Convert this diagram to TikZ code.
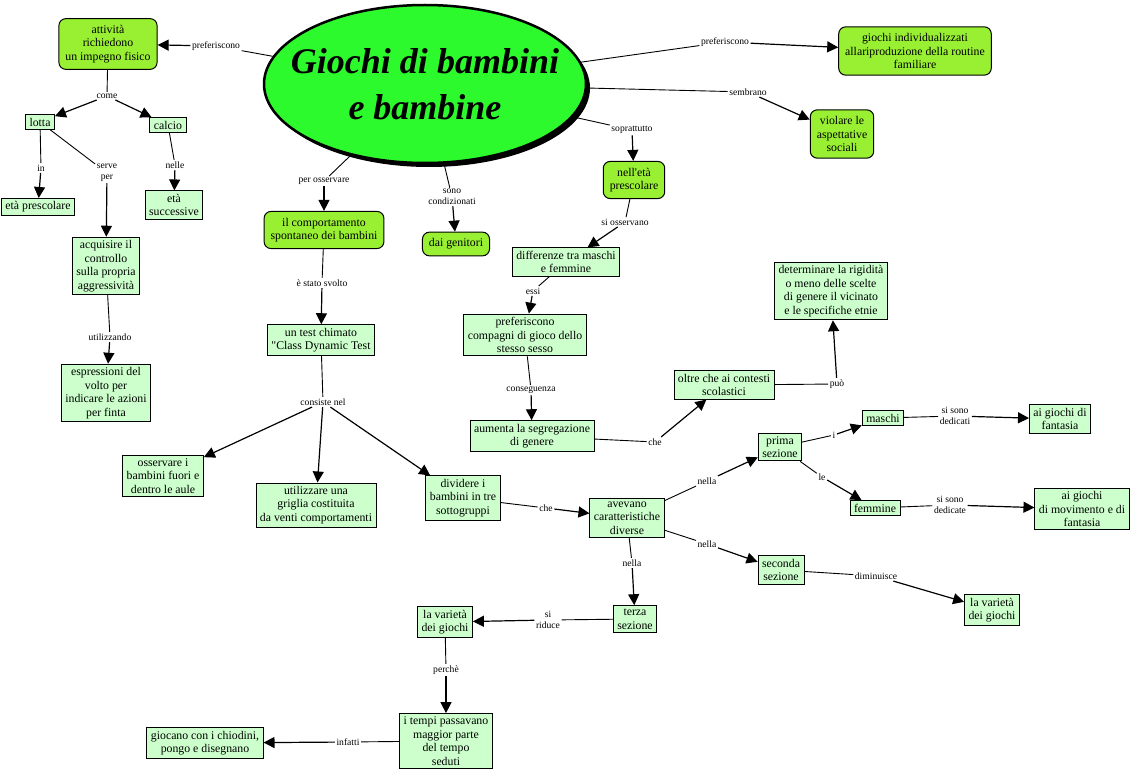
\documentclass[tikz,border=0pt]{standalone}
\usepackage{fontspec}
\setmainfont{Liberation Serif}
\usetikzlibrary{arrows.meta, shapes.geometric, shadows}

\definecolor{titlegreen}{RGB}{45,250,45}
\definecolor{limegreen}{RGB}{153,240,51}
\definecolor{mintgreen}{RGB}{204,255,204}

\tikzset{
  title/.style={ellipse, draw, line width=2.5pt, fill=titlegreen, minimum width=322pt, minimum height=158pt,
    inner sep=0pt, align=center, font=\fontsize{36}{46}\selectfont\bfseries\itshape,
    drop shadow={fill=black, opacity=1, shadow xshift=4pt, shadow yshift=-4pt}},
  topic/.style={draw, line width=1pt, rounded corners=7pt, fill=limegreen, align=center,
    font=\fontsize{11.8}{13.5}\selectfont, inner xsep=6.5pt, inner ysep=6.5pt},
  concept/.style={draw, line width=0.9pt, fill=mintgreen, align=center,
    font=\fontsize{11.8}{13.5}\selectfont, inner xsep=4pt, inner ysep=3.2pt},
  linklbl/.style={fill=white, align=center, font=\fontsize{9.6}{10.5}\selectfont, inner sep=1.5pt},
  link/.style={line width=0.9pt},
  arr/.style={line width=1.2pt, -{Triangle[length=11pt,width=11pt]}},
}

\begin{document}
\begin{tikzpicture}[x=1pt, y=-1pt]
    \useasboundingbox (0,0) rectangle (1132,773);

    \node[title] (title) at (425,84) {\makebox[0pt]{Giochi di bambini}\\\makebox[0pt]{e bambine}};

    \node[topic] (fisico) at (108,44) {attività\\richiedono\\un impegno fisico};
    \node[topic] (routine) at (915,51) {giochi individualizzati\\allariproduzione della routine\\familiare};
    \node[topic] (violare) at (842,134) {violare le\\aspettative\\sociali};
    \node[topic] (prescol) at (634,180) {nell\textquotesingle età\\prescolare};
    \node[topic] (spontaneo) at (324,230) {il comportamento\\spontaneo dei bambini};
    \node[topic] (genitori) at (456,244) {dai genitori};

    \node[concept] (lotta) at (40,122) {lotta};
    \node[concept] (calcio) at (168,125) {calcio};
    \node[concept] (etapre) at (38,207) {età prescolare};
    \node[concept] (etasucc) at (174,205) {età\\successive};
    \node[concept] (controllo) at (106,266) {acquisire il\\controllo\\sulla propria\\aggressività};
    \node[concept] (volto) at (106,393) {espressioni del\\volto per\\indicare le azioni\\per finta};
    \node[concept] (test) at (321,340) {un test chimato\\\textquotedbl Class Dynamic Test};
    \node[concept] (aule) at (163,476) {osservare i\\bambini fuori e\\dentro le aule};
    \node[concept] (griglia) at (316,505) {utilizzare una\\griglia costituita\\da venti comportamenti};
    \node[concept] (dividere) at (463,498) {dividere i\\bambini in tre\\sottogruppi};
    \node[concept] (differenze) at (566,262) {differenze tra maschi\\e femmine};
    \node[concept] (compagni) at (525,335) {preferiscono\\compagni di gioco dello\\stesso sesso};
    \node[concept] (segreg) at (532,436) {aumenta la segregazione\\di genere};
    \node[concept] (contesti) at (724,385) {oltre che ai contesti\\scolastici};
    \node[concept] (rigidita) at (831,291) {determinare la rigidità\\o meno delle scelte\\di genere il vicinato\\e le specifiche etnie};
    \node[concept] (diverse) at (627,518) {avevano\\caratteristiche\\diverse};
    \node[concept] (prima) at (780,447) {prima\\sezione};
    \node[concept] (maschi) at (883,418) {maschi};
    \node[concept] (fantasia) at (1060,419) {ai giochi di\\fantasia};
    \node[concept] (femmine) at (875,508) {femmine};
    \node[concept] (movimento) at (1082,509) {ai giochi\\di movimento e di\\fantasia};
    \node[concept] (seconda) at (781,570) {seconda\\sezione};
    \node[concept] (varietaR) at (992,610) {la varietà\\dei giochi};
    \node[concept] (terza) at (635,619) {terza\\sezione};
    \node[concept] (varietaL) at (445,622) {la varietà\\dei giochi};
    \node[concept] (seduti) at (446,741) {i tempi passavano\\maggior parte\\del tempo\\seduti};
    \node[concept] (chiodini) at (205,743) {giocano con i chiodini,\\pongo e disegnano};

    \node[linklbl] (lprefA) at (216,46) {preferiscono};
    \node[linklbl] (lprefB) at (725,42) {preferiscono};
    \node[linklbl] (lsembr) at (748,92) {sembrano};
    \node[linklbl] (lsopra) at (632,130) {soprattutto};
    \node[linklbl] (losserv) at (324,181) {per osservare};
    \node[linklbl] (lcond) at (452,197) {sono\\condizionati};
    \node[linklbl] (lcome) at (107,96) {come};
    \node[linklbl] (lin) at (41,168) {in};
    \node[linklbl] (lserve) at (107,173) {serve\\per};
    \node[linklbl] (lnelle) at (175,165) {nelle};
    \node[linklbl] (lutil) at (110,337) {utilizzando};
    \node[linklbl] (lsvolto) at (322,283) {è stato svolto};
    \node[linklbl] (lconsiste) at (323,402) {consiste nel};
    \node[linklbl] (lsioss) at (625,222) {si osservano};
    \node[linklbl] (lessi) at (533,291) {essi};
    \node[linklbl] (lconseg) at (531,390) {conseguenza};
    \node[linklbl] (lcheA) at (655,442) {che};
    \node[linklbl] (lpuo) at (837,384) {può};
    \node[linklbl] (lcheB) at (546,508) {che};
    \node[linklbl] (lnellaA) at (707,481) {nella};
    \node[linklbl] (lnellaB) at (707,544) {nella};
    \node[linklbl] (lnellaC) at (632,563) {nella};
    \node[linklbl] (li) at (834,435) {i};
    \node[linklbl] (lle) at (822,477) {le};
    \node[linklbl] (ldedM) at (955,416) {si sono\\dedicati};
    \node[linklbl] (ldedF) at (950,505) {si sono\\dedicate};
    \node[linklbl] (ldimin) at (876,576) {diminuisce};
    \node[linklbl] (lriduce) at (548,620) {si\\riduce};
    \node[linklbl] (lperche) at (446,670) {perchè};
    \node[linklbl] (linfatti) at (348,742) {infatti};

    \draw[link] (title) -- (lprefA);  \draw[arr] (lprefA) -- (fisico);
    \draw[link] (title) -- (lprefB);  \draw[arr] (lprefB) -- (routine);
    \draw[link] (title) -- (lsembr);  \draw[arr] (lsembr) -- (violare);
    \draw[link] (title) -- (lsopra);  \draw[arr] (lsopra) -- (prescol);
    \draw[link] (title) -- (losserv); \draw[arr] (losserv) -- (spontaneo);
    \draw[link] (title) -- (lcond);   \draw[arr] (lcond) -- (genitori);

    \draw[link] (fisico) -- (lcome);
    \draw[arr] (lcome) -- (lotta);
    \draw[arr] (lcome) -- (calcio);
    \draw[link] (lotta) -- (lin);     \draw[arr] (lin) -- (etapre);
    \draw[link] (lotta) -- (lserve);  \draw[arr] (lserve) -- (controllo);
    \draw[link] (calcio) -- (lnelle); \draw[arr] (lnelle) -- (etasucc);
    \draw[link] (controllo) -- (lutil); \draw[arr] (lutil) -- (volto);

    \draw[link] (spontaneo) -- (lsvolto); \draw[arr] (lsvolto) -- (test);
    \draw[link] (test) -- (lconsiste);
    \draw[arr] (lconsiste) -- (aule);
    \draw[arr] (lconsiste) -- (griglia);
    \draw[arr] (lconsiste) -- (dividere);

    \draw[link] (prescol) -- (lsioss);     \draw[arr] (lsioss) -- (differenze);
    \draw[link] (differenze) -- (lessi);   \draw[arr] (lessi) -- (compagni);
    \draw[link] (compagni) -- (lconseg);   \draw[arr] (lconseg) -- (segreg);
    \draw[link] (segreg) -- (lcheA);       \draw[arr] (lcheA) -- (contesti);
    \draw[link] (contesti) -- (lpuo);      \draw[arr] (lpuo) -- (rigidita);

    \draw[link] (dividere) -- (lcheB);     \draw[arr] (lcheB) -- (diverse);
    \draw[link] (diverse) -- (lnellaA);    \draw[arr] (lnellaA) -- (prima);
    \draw[link] (diverse) -- (lnellaB);    \draw[arr] (lnellaB) -- (seconda);
    \draw[link] (diverse) -- (lnellaC);    \draw[arr] (lnellaC) -- (terza);
    \draw[link] (prima) -- (li);           \draw[arr] (li) -- (maschi);
    \draw[link] (prima) -- (lle);          \draw[arr] (lle) -- (femmine);
    \draw[link] (maschi) -- (ldedM);       \draw[arr] (ldedM) -- (fantasia);
    \draw[link] (femmine) -- (ldedF);      \draw[arr] (ldedF) -- (movimento);
    \draw[link] (seconda) -- (ldimin);     \draw[arr] (ldimin) -- (varietaR);
    \draw[link] (terza) -- (lriduce);      \draw[arr] (lriduce) -- (varietaL);
    \draw[link] (varietaL) -- (lperche);   \draw[arr] (lperche) -- (seduti);
    \draw[link] (seduti) -- (linfatti);    \draw[arr] (linfatti) -- (chiodini);
\end{tikzpicture}
\end{document}
